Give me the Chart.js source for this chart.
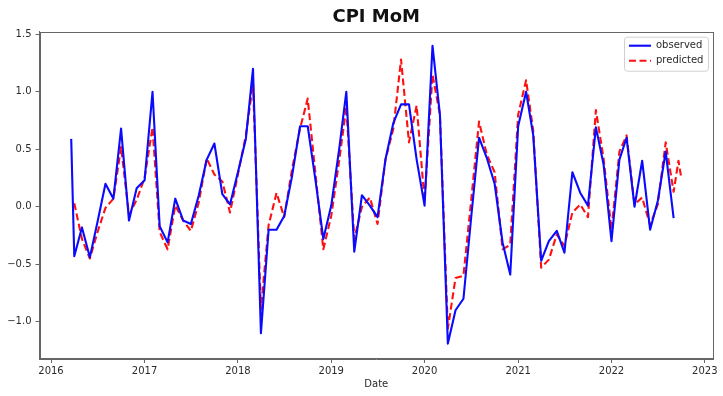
<!DOCTYPE html>
<html><head><meta charset="utf-8">
<script src="https://cdn.jsdelivr.net/npm/chart.js@4"></script>
<style>html,body{margin:0;padding:0;background:#fff}</style>
</head><body>
<canvas id="c" width="723" height="396"></canvas>
<script>
const titleText = "CPI MoM";
const xAxisLabel = "Date";
const seriesNames = ["observed", "predicted"];
const yearTicks = [2016, 2017, 2018, 2019, 2020, 2021, 2022, 2023];
const valueTicks = [-1.0, -0.5, 0.0, 0.5, 1.0, 1.5];

const observedDates = ["2016-03-20",
  "2016-04","2016-05","2016-06","2016-07","2016-08","2016-09","2016-10","2016-11","2016-12",
  "2017-01","2017-02","2017-03","2017-04","2017-05","2017-06","2017-07","2017-08","2017-09","2017-10","2017-11","2017-12",
  "2018-01","2018-02","2018-03","2018-04","2018-05","2018-06","2018-07","2018-08","2018-09","2018-10","2018-11","2018-12",
  "2019-01","2019-02","2019-03","2019-04","2019-05","2019-06","2019-07","2019-08","2019-09","2019-10","2019-11","2019-12",
  "2020-01","2020-02","2020-03","2020-04","2020-05","2020-06","2020-07","2020-08","2020-09","2020-10","2020-11","2020-12",
  "2021-01","2021-02","2021-03","2021-04","2021-05","2021-06","2021-07","2021-08","2021-09","2021-10","2021-11","2021-12",
  "2022-01","2022-02","2022-03","2022-04","2022-05","2022-06","2022-07","2022-08","2022-09"];
const observedValues = [0.59,
  -0.43, -0.18, -0.44, -0.13, 0.20, 0.07, 0.68, -0.12, 0.16,
  0.23, 1.00, -0.17, -0.31, 0.07, -0.12, -0.15, 0.10, 0.41, 0.55, 0.11, 0.02,
  0.30, 0.59, 1.20, -1.10, -0.20, -0.20, -0.08, 0.27, 0.70, 0.70, 0.22, -0.28,
  0.01, 0.50, 1.00, -0.39, 0.10, 0.01, -0.09, 0.41, 0.73, 0.89, 0.89, 0.41,
  0.01, 1.40, 0.80, -1.19, -0.90, -0.80, -0.10, 0.60, 0.42, 0.20, -0.31, -0.59,
  0.70, 1.00, 0.62, -0.47, -0.30, -0.21, -0.40, 0.30, 0.12, 0.01, 0.69, 0.37,
  -0.30, 0.41, 0.60, 0.00, 0.40, -0.20, 0.05, 0.48, -0.10];

const predictedDates = [
  "2016-04","2016-05","2016-06","2016-07","2016-08","2016-09","2016-10","2016-11","2016-12",
  "2017-01","2017-02","2017-03","2017-04","2017-05","2017-06","2017-07","2017-08","2017-09","2017-10","2017-11","2017-12",
  "2018-01","2018-02","2018-03","2018-04","2018-05","2018-06","2018-07","2018-08","2018-09","2018-10","2018-11","2018-12",
  "2019-01","2019-02","2019-03","2019-04","2019-05","2019-06","2019-07","2019-08","2019-09","2019-10","2019-11","2019-12",
  "2020-01","2020-02","2020-03","2020-04","2020-05","2020-06","2020-07","2020-08","2020-09","2020-10","2020-11","2020-12",
  "2021-01","2021-02","2021-03","2021-04","2021-05","2021-06","2021-07","2021-08","2021-09","2021-10","2021-11","2021-12",
  "2022-01","2022-02","2022-03","2022-04","2022-05","2022-06","2022-07","2022-08","2022-09",
  "2022-09-20","2022-10-01"];
const predictedValues = [
  0.03, -0.28, -0.45, -0.22, -0.01, 0.07, 0.52, -0.07, 0.06,
  0.25, 0.69, -0.22, -0.37, 0.01, -0.12, -0.21, 0.04, 0.42, 0.28, 0.22, -0.05,
  0.28, 0.62, 1.07, -0.89, -0.16, 0.12, -0.09, 0.33, 0.68, 0.94, 0.27, -0.37,
  -0.08, 0.40, 0.87, -0.28, 0.00, 0.08, -0.15, 0.41, 0.68, 1.28, 0.56, 0.88,
  0.05, 1.15, 0.80, -1.06, -0.62, -0.60, 0.05, 0.74, 0.45, 0.30, -0.37, -0.33,
  0.80, 1.10, 0.66, -0.53, -0.46, -0.24, -0.34, -0.05, 0.02, -0.09, 0.84, 0.42,
  -0.20, 0.48, 0.62, 0.02, 0.08, -0.16, 0.02, 0.56, 0.13,
  0.40, 0.25];

function dayNum(s) {
  const p = String(s).split('-').map(Number);
  return Date.UTC(p[0], (p[1] || 1) - 1, p[2] || 1) / 864e5;
}
function toPoints(dates, vals) {
  return dates.map((d, i) => ({ x: dayNum(d), y: vals[i] }));
}

const FONT = "'DejaVu Sans', sans-serif";
const AXIS_COLOR = '#666';
const TEXT_COLOR = '#2a2a2a';

const framePlugin = {
  id: 'frame',
  afterDraw(chart) {
    const { ctx, chartArea: a } = chart;
    ctx.save();
    ctx.strokeStyle = AXIS_COLOR;
    ctx.lineWidth = 1;
    ctx.strokeRect(Math.round(a.left) + 0.5, Math.round(a.top) + 0.5,
      Math.round(a.right - a.left) - 1, Math.round(a.bottom - a.top) - 1);
    const ds = chart.data.datasets;
    const w = 84, h = 34, rowH = 15;
    const bx = a.right - 5 - w, by = a.top + 5;
    ctx.fillStyle = 'rgba(255,255,255,0.8)';
    ctx.strokeStyle = '#d0d0d0';
    ctx.beginPath();
    ctx.roundRect(bx + 0.5, by + 0.5, w, h, 3);
    ctx.fill();
    ctx.stroke();
    ctx.font = '10px ' + FONT;
    ctx.textBaseline = 'middle';
    ds.forEach((d, i) => {
      const cy = by + 9 + i * rowH;
      ctx.strokeStyle = d.borderColor;
      ctx.lineWidth = d.borderWidth;
      ctx.setLineDash(d.borderDash || []);
      ctx.beginPath();
      ctx.moveTo(bx + 5, cy);
      ctx.lineTo(bx + 27, cy);
      ctx.stroke();
      ctx.setLineDash([]);
      ctx.fillStyle = TEXT_COLOR;
      ctx.fillText(d.label, bx + 32, cy);
    });
    ctx.restore();
  }
};

new Chart(document.getElementById('c'), {
  type: 'line',
  data: {
    datasets: [
      {
        label: seriesNames[0],
        data: toPoints(observedDates, observedValues),
        borderColor: '#0a0aff',
        borderWidth: 2.1,
        pointRadius: 0,
        tension: 0,
        borderJoinStyle: 'round',
        fill: false
      },
      {
        label: seriesNames[1],
        data: toPoints(predictedDates, predictedValues),
        borderColor: '#ff1010',
        borderWidth: 2.1,
        borderDash: [7, 3.5],
        pointRadius: 0,
        tension: 0,
        borderJoinStyle: 'round',
        fill: false
      }
    ]
  },
  options: {
    responsive: false,
    animation: false,
    events: [],
    layout: { padding: { left: 0, right: 10, top: 0, bottom: 0 } },
    plugins: {
      legend: { display: false },
      tooltip: { enabled: false },
      title: {
        display: true,
        text: titleText,
        fullSize: false,
        color: '#111',
        font: { family: FONT, size: 18, weight: 'bold' },
        padding: { top: 7, bottom: 3.1 }
      }
    },
    scales: {
      x: {
        type: 'linear',
        min: dayNum('2016-01-01') - 45,
        max: dayNum('2023-01-01') + 32,
        afterBuildTicks(scale) {
          scale.ticks = yearTicks.map(y => ({ value: dayNum(y + '-01-01') }));
        },
        afterFit(scale) { scale.height = 37; },
        ticks: {
          autoSkip: false,
          maxRotation: 0,
          padding: 2,
          color: TEXT_COLOR,
          font: { family: FONT, size: 10 },
          callback(v, i) { return String(yearTicks[i]); }
        },
        grid: { drawOnChartArea: false, drawTicks: true, tickLength: 4, color: AXIS_COLOR },
        border: { display: true, color: AXIS_COLOR },
        title: {
          display: true,
          text: xAxisLabel,
          color: TEXT_COLOR,
          font: { family: FONT, size: 10 },
          padding: { top: 0, bottom: 6 }
        }
      },
      y: {
        type: 'linear',
        min: -1.324,
        max: 1.522,
        afterBuildTicks(scale) {
          scale.ticks = valueTicks.map(v => ({ value: v }));
        },
        afterFit(scale) { scale.width = 39.5; },
        ticks: {
          autoSkip: false,
          padding: 4,
          color: TEXT_COLOR,
          font: { family: FONT, size: 10 },
          callback(v) { return v.toFixed(1).replace('-', '\u2212'); }
        },
        grid: { drawOnChartArea: false, drawTicks: true, tickLength: 4, color: AXIS_COLOR },
        border: { display: true, color: AXIS_COLOR }
      }
    }
  },
  plugins: [framePlugin]
});
</script>
</body></html>
